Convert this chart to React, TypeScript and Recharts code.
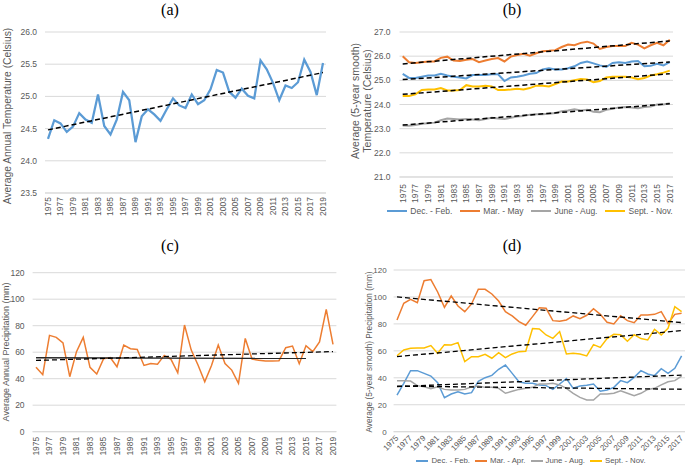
import { LineChart, Line, XAxis, YAxis, CartesianGrid } from 'recharts';

// (a) annual temperature
const YEARS_A = [
  1975, 1976, 1977, 1978, 1979, 1980, 1981, 1982, 1983, 1984,
  1985, 1986, 1987, 1988, 1989, 1990, 1991, 1992, 1993, 1994,
  1995, 1996, 1997, 1998, 1999, 2000, 2001, 2002, 2003, 2004,
  2005, 2006, 2007, 2008, 2009, 2010, 2011, 2012, 2013, 2014,
  2015, 2016, 2017, 2018, 2019,
];
const TEMP_ANNUAL = [
  24.34, 24.63, 24.58, 24.45, 24.53, 24.74, 24.64, 24.59, 25.03, 24.54,
  24.41, 24.64, 25.07, 24.94, 24.29, 24.69, 24.8, 24.72, 24.62, 24.8,
  24.97, 24.86, 24.82, 25.03, 24.88, 24.94, 25.11, 25.41, 25.37, 25.07,
  24.98, 25.12, 25.01, 24.97, 25.56, 25.42, 25.21, 24.94, 25.17, 25.13,
  25.22, 25.57, 25.38, 25.02, 25.52,
];
const TEMP_ANNUAL_TREND = [24.48, 25.37]; // first / last year
const TICKS_A = [23.5, 24, 24.5, 25, 25.5, 26];

// (b) seasonal temperature, 5-year smooth
const YEARS_B = [
  1975, 1976, 1977, 1978, 1979, 1980, 1981, 1982, 1983, 1984,
  1985, 1986, 1987, 1988, 1989, 1990, 1991, 1992, 1993, 1994,
  1995, 1996, 1997, 1998, 1999, 2000, 2001, 2002, 2003, 2004,
  2005, 2006, 2007, 2008, 2009, 2010, 2011, 2012, 2013, 2014,
  2015, 2016, 2017,
];
const SEASONS_T = ['Dec. - Feb.', 'Mar. - May', 'June - Aug.', 'Sept. - Nov.'];
const TEMP_DJF = [
  25.27, 25.1, 25.1, 25.15, 25.2, 25.2, 25.27, 25.2, 25.15, 25.12,
  25.08, 25.22, 25.22, 25.22, 25.25, 25.25, 24.97, 25.12, 25.15, 25.2,
  25.27, 25.3, 25.45, 25.5, 25.45, 25.45, 25.5, 25.58, 25.72, 25.78,
  25.7, 25.62, 25.55, 25.72, 25.75, 25.72, 25.78, 25.8, 25.58, 25.6,
  25.68, 25.62, 25.75,
];
const TEMP_MAM = [
  26.0, 25.75, 25.72, 25.75, 25.78, 25.78, 25.93, 25.98, 25.82, 25.8,
  25.85, 25.88, 25.75, 25.82, 25.88, 25.92, 25.78, 25.98, 26.05, 26.1,
  26.02, 26.12, 26.2, 26.22, 26.25, 26.38, 26.48, 26.45, 26.55, 26.6,
  26.52, 26.3, 26.38, 26.42, 26.42, 26.42, 26.55, 26.48, 26.32, 26.45,
  26.55, 26.45, 26.68,
];
const TEMP_JJA = [
  23.13, 23.12, 23.15, 23.2, 23.22, 23.25, 23.35, 23.42, 23.4, 23.38,
  23.4, 23.38, 23.35, 23.4, 23.45, 23.42, 23.4, 23.45, 23.5, 23.52,
  23.58, 23.6, 23.6, 23.62, 23.65, 23.72, 23.75, 23.8, 23.75, 23.78,
  23.7, 23.68, 23.78, 23.82, 23.88, 23.9, 23.88, 23.85, 23.9, 23.92,
  24.0, 24.0, 24.05,
];
const TEMP_SON = [
  24.35, 24.35, 24.42, 24.6, 24.62, 24.62, 24.68, 24.58, 24.58, 24.6,
  24.8, 24.75, 24.75, 24.78, 24.75, 24.6, 24.6, 24.62, 24.65, 24.62,
  24.68, 24.78, 24.78, 24.75, 24.85, 24.95, 24.95, 25.0, 25.05, 25.03,
  24.92, 24.97, 25.12, 25.15, 25.15, 25.15, 25.12, 25.05, 25.1, 25.2,
  25.25, 25.32, 25.4,
];
const TEMP_SEASON_TRENDS = [
  [25.03, 25.76],
  [25.68, 26.63],
  [23.15, 24.03],
  [24.42, 25.27],
];
const TICKS_B = [21, 22, 23, 24, 25, 26, 27];

// (c) annual precipitation
const PRECIP_ANNUAL = [
  48.6, 43, 72.7, 71.2, 67, 41.5, 60.4, 71.2, 48.6, 43.5,
  55, 56, 49, 65.4, 62.6, 62, 50, 51.5, 51, 57.6,
  54.6, 44.5, 80.5, 61.6, 50.3, 37.7, 50, 65.4, 51.5, 46.5,
  36.5, 70.4, 54.8, 54, 53.3, 53.3, 53.6, 63.4, 64.6, 51.3,
  64.9, 60.4, 67.7, 92.3, 65.9,
];
const PRECIP_ANNUAL_TREND = [53.8, 60.5];
const PRECIP_MEAN_LINE = [55.8, 55.3]; // 1975 -> 2015
const PRECIP_MEAN_END = 2015;
const TICKS_C = [0, 20, 40, 60, 80, 100, 120];

// (d) seasonal precipitation, 5-year smooth
const SEASONS_P = ['Dec. - Feb.', 'Mar. - Apr.', 'June - Aug.', 'Sept. - Nov.'];
const PRECIP_DJF = [
  27.2, 35.9, 45.3, 45.3, 43.3, 41.3, 36.4, 25.2, 28, 29.7,
  28, 29, 37.4, 40.1, 41.8, 46.3, 49.5, 43.3, 37.1, 35.9,
  35.9, 34.7, 34.2, 31.4, 35.4, 39.4, 32.2, 33.9, 34.4, 35.4,
  30, 30.9, 32.9, 37.9, 36.4, 40.3, 45.3, 42.8, 41.6, 46.8,
  43.3, 47, 56.2,
];
const PRECIP_MAM = [
  82.9, 95.3, 98.3, 95.8, 112, 112.9, 103.7, 92.3, 100.7, 93.3,
  89.1, 94.8, 105.7, 105.7, 102.2, 97, 89.1, 85.9, 81.7, 79,
  85.4, 92, 91.6, 82.4, 81.9, 82.9, 85.9, 83.9, 86.4, 91.3,
  87.1, 81.2, 80, 86.1, 82.4, 80.9, 86.6, 86.6, 87.1, 89.1,
  80.4, 87.1, 87.9,
];
const PRECIP_JJA = [
  37.9, 37.9, 37.6, 34.2, 33.4, 31.9, 33.4, 31.4, 30.9, 30.9,
  31.4, 33.4, 33.9, 32.9, 32.9, 32.2, 28.5, 30, 31.4, 32.2,
  32.9, 35.4, 35.4, 35.9, 34.7, 32.2, 28.5, 25.5, 23.5, 23.5,
  28, 28, 28.5, 30.4, 28.5, 26.7, 28.5, 31.4, 32.2, 34.7,
  37.1, 37.9, 41.3,
];
const PRECIP_SON = [
  56.4, 60.6, 61.9, 62.1, 62.1, 63.9, 58.2, 64.6, 64.4, 66.1,
  52, 55.7, 55.7, 57.4, 54.5, 58.7, 55, 57.7, 59.4, 59.7,
  76.5, 76.2, 71.8, 69.3, 74.3, 57.7, 58.2, 57.7, 56.2, 64.6,
  62.6, 69.1, 72.3, 72, 67.1, 72, 69.1, 68.1, 76, 71.8,
  76.7, 92.8, 89.1,
];
const PRECIP_SEASON_TRENDS = [
  [33.5, 42],
  [100, 81],
  [33.8, 31.5],
  [55.7, 75],
];
const TICKS_D = [0, 10, 20, 30, 40, 50, 60, 70, 80, 90, 100, 110, 120];

const SEASON_COLORS = ['#5B9BD5', '#ED7D31', '#A5A5A5', '#FFC000'];
const GRID = '#D9D9D9';
const TXT = '#595959';
const FONT = '"Liberation Sans", Arial, sans-serif';

// trend lines only carry their two end values, the rest is null
function ends(i: number, last: number, pair: number[]) {
  if (i === 0) return pair[0];
  if (i === last) return pair[1];
  return null;
}

const dataA = YEARS_A.map((year, i) => ({
  year,
  temp: TEMP_ANNUAL[i],
  trend: ends(i, YEARS_A.length - 1, TEMP_ANNUAL_TREND),
}));

const tempSeasons = [TEMP_DJF, TEMP_MAM, TEMP_JJA, TEMP_SON];
const dataB = YEARS_B.map((year, i) => {
  const row: Record<string, number | null> = { year };
  tempSeasons.forEach((s, k) => {
    row['s' + k] = s[i];
    row['t' + k] = ends(i, YEARS_B.length - 1, TEMP_SEASON_TRENDS[k]);
  });
  return row;
});

const meanEndIdx = YEARS_A.indexOf(PRECIP_MEAN_END);
const dataC = YEARS_A.map((year, i) => ({
  year,
  precip: PRECIP_ANNUAL[i],
  trend: ends(i, YEARS_A.length - 1, PRECIP_ANNUAL_TREND),
  mean: ends(i, meanEndIdx, PRECIP_MEAN_LINE),
}));

const precipSeasons = [PRECIP_DJF, PRECIP_MAM, PRECIP_JJA, PRECIP_SON];
const dataD = YEARS_B.map((year, i) => {
  const row: Record<string, number | null> = { year };
  precipSeasons.forEach((s, k) => {
    row['s' + k] = s[i];
    row['t' + k] = ends(i, YEARS_B.length - 1, PRECIP_SEASON_TRENDS[k]);
  });
  return row;
});

function rotTick(angle: number, size: number) {
  return (p: any) => (
    <text
      x={p.x}
      y={p.y}
      transform={`rotate(${angle} ${p.x} ${p.y})`}
      textAnchor="end"
      dy="0.35em"
      fontSize={size}
      fill={TXT}
      fontFamily={FONT}
    >
      {p.payload.value}
    </text>
  );
}

// rotated axis title; xs = centre x of each line, cy = centre y
function yTitle(lines: string[], xs: number[], cy: number, size: number) {
  return () => (
    <g>
      {lines.map((t, i) => (
        <text
          key={t}
          x={xs[i]}
          y={cy}
          transform={`rotate(-90 ${xs[i]} ${cy})`}
          textAnchor="middle"
          dy="0.35em"
          fontSize={size}
          fill={TXT}
          fontFamily={FONT}
        >
          {t}
        </text>
      ))}
    </g>
  );
}

function Legend4({ names, left, top, width, size, swatch, gap }: any) {
  return (
    <div
      style={{
        position: 'absolute', left, top, width, display: 'flex', justifyContent: 'center',
        gap, fontFamily: FONT, fontSize: size, color: TXT, lineHeight: '12px', whiteSpace: 'nowrap',
      }}
    >
      {names.map((n: string, k: number) => (
        <div key={n} style={{ display: 'flex', alignItems: 'center' }}>
          <span style={{ display: 'inline-block', width: swatch, height: 2, background: SEASON_COLORS[k], marginRight: 3 }} />
          {n}
        </div>
      ))}
    </div>
  );
}

function Title({ text, x, y }: { text: string; x: number; y: number }) {
  return (
    <div
      style={{
        position: 'absolute', left: x - 30, top: y - 10, width: 60, height: 20, textAlign: 'center',
        fontFamily: '"Liberation Serif", "Times New Roman", serif', fontSize: 16, lineHeight: '20px', color: '#000',
      }}
    >
      {text}
    </div>
  );
}

const trendProps = {
  stroke: '#000',
  strokeDasharray: '5 3',
  strokeWidth: 1.5,
  dot: false,
  connectNulls: true,
  isAnimationActive: false,
  legendType: 'none' as const,
};

export default function App() {
  return (
    <div style={{ position: 'absolute', left: 0, top: 0, width: 685, height: 466, background: '#fff', overflow: 'hidden' }}>
      <Title text="(a)" x={170} y={10} />
      <Title text="(b)" x={512} y={10} />
      <Title text="(c)" x={170} y={246} />
      <Title text="(d)" x={512} y={246} />

      <div style={{ position: 'absolute', left: 0, top: 20 }}>
        <LineChart width={340} height={210} data={dataA} margin={{ top: 12, right: 14, bottom: 0, left: 0 }}>
          <CartesianGrid vertical={false} stroke={GRID} />
          <XAxis
            dataKey="year" interval={1} height={37} tickSize={0} tickMargin={4} tickLine={false}
            axisLine={{ stroke: GRID }} padding={{ left: 3, right: 3 }} tick={rotTick(-90, 8.5)}
          />
          <YAxis
            width={45} domain={[23.5, 26]} ticks={TICKS_A} tickFormatter={(v: number) => v.toFixed(1)}
            axisLine={false} tickLine={false} tickSize={0} tickMargin={8}
            tick={{ fill: TXT, fontSize: 8.5, fontFamily: FONT }}
            label={yTitle(['Average Annual Temperature (Celsius)'], [7.5], 96, 10.3)}
          />
          <Line dataKey="temp" stroke={SEASON_COLORS[0]} strokeWidth={2.25} dot={false} isAnimationActive={false} />
          <Line dataKey="trend" {...trendProps} />
        </LineChart>
      </div>

      <div style={{ position: 'absolute', left: 340, top: 20 }}>
        <LineChart width={345} height={200} data={dataB} margin={{ top: 12, right: 12, bottom: 13, left: 0 }}>
          <CartesianGrid vertical={false} stroke={GRID} />
          <XAxis
            dataKey="year" interval={1} height={30} tickSize={0} tickMargin={7} tickLine={false}
            axisLine={{ stroke: GRID }} padding={{ left: 3.2, right: 3.2 }} tick={rotTick(-90, 8.5)}
          />
          <YAxis
            width={59.5} domain={[21, 27]} ticks={TICKS_B} tickFormatter={(v: number) => v.toFixed(1)}
            axisLine={false} tickLine={false} tickSize={0} tickMargin={9}
            tick={{ fill: TXT, fontSize: 8.5, fontFamily: FONT }}
            label={yTitle(['Average (5-year smooth)', 'Temperature (Celsius)'], [15, 27], 81, 10.5)}
          />
          {SEASONS_T.map((n, k) => (
            <Line key={n} dataKey={'s' + k} name={n} stroke={SEASON_COLORS[k]} strokeWidth={2} dot={false} isAnimationActive={false} />
          ))}
          {SEASONS_T.map((n, k) => (
            <Line key={n + 't'} dataKey={'t' + k} {...trendProps} />
          ))}
        </LineChart>
      </div>
      <Legend4 names={SEASONS_T} left={390} top={205} width={280} size={8.5} swatch={20} gap={8} />

      <div style={{ position: 'absolute', left: 0, top: 240 }}>
        <LineChart width={340} height={226} data={dataC} margin={{ top: 32.7, right: 3.6, bottom: 0, left: 0 }}>
          <CartesianGrid vertical={false} stroke={GRID} />
          <XAxis
            dataKey="year" interval={1} height={34.3} tickSize={0} tickMargin={5} tickLine={false}
            axisLine={{ stroke: GRID }} padding={{ left: 3.4, right: 3.4 }} tick={rotTick(-90, 8.5)}
          />
          <YAxis
            width={32.6} domain={[0, 120]} ticks={TICKS_C}
            axisLine={false} tickLine={false} tickSize={0} tickMargin={8}
            tick={{ fill: TXT, fontSize: 8.5, fontFamily: FONT }}
            label={yTitle(['Average Annual Precipitation (mm)'], [5.5], 112, 9)}
          />
          <Line dataKey="precip" stroke={SEASON_COLORS[1]} strokeWidth={1.5} dot={false} isAnimationActive={false} />
          <Line dataKey="mean" stroke="#262626" strokeWidth={1.3} dot={false} connectNulls isAnimationActive={false} />
          <Line dataKey="trend" {...trendProps} strokeWidth={1.3} />
        </LineChart>
      </div>

      <div style={{ position: 'absolute', left: 340, top: 240 }}>
        <LineChart width={345} height={226} data={dataD} margin={{ top: 30, right: 0, bottom: 4.3, left: 0 }}>
          <CartesianGrid vertical={false} stroke={GRID} />
          <XAxis
            dataKey="year" interval={1} height={30} tickSize={0} tickMargin={5} tickLine={false}
            axisLine={{ stroke: GRID }} padding={{ left: 3.4, right: 3.4 }} tick={rotTick(-45, 8)}
          />
          <YAxis
            width={53.6} domain={[0, 120]} ticks={TICKS_D}
            axisLine={false} tickLine={false} tickSize={0} tickMargin={7}
            tick={{ fill: TXT, fontSize: 8, fontFamily: FONT }}
            label={yTitle(['Average (5-year smooth) Precipitation (mm)'], [29], 112, 8.3)}
          />
          {SEASONS_P.map((n, k) => (
            <Line key={n} dataKey={'s' + k} name={n} stroke={SEASON_COLORS[k]} strokeWidth={1.5} dot={false} isAnimationActive={false} />
          ))}
          {SEASONS_P.map((n, k) => (
            <Line key={n + 't'} dataKey={'t' + k} {...trendProps} strokeWidth={1.3} />
          ))}
        </LineChart>
      </div>
      <Legend4 names={SEASONS_P} left={420} top={455} width={222} size={7.8} swatch={12} gap={5} />
    </div>
  );
}
